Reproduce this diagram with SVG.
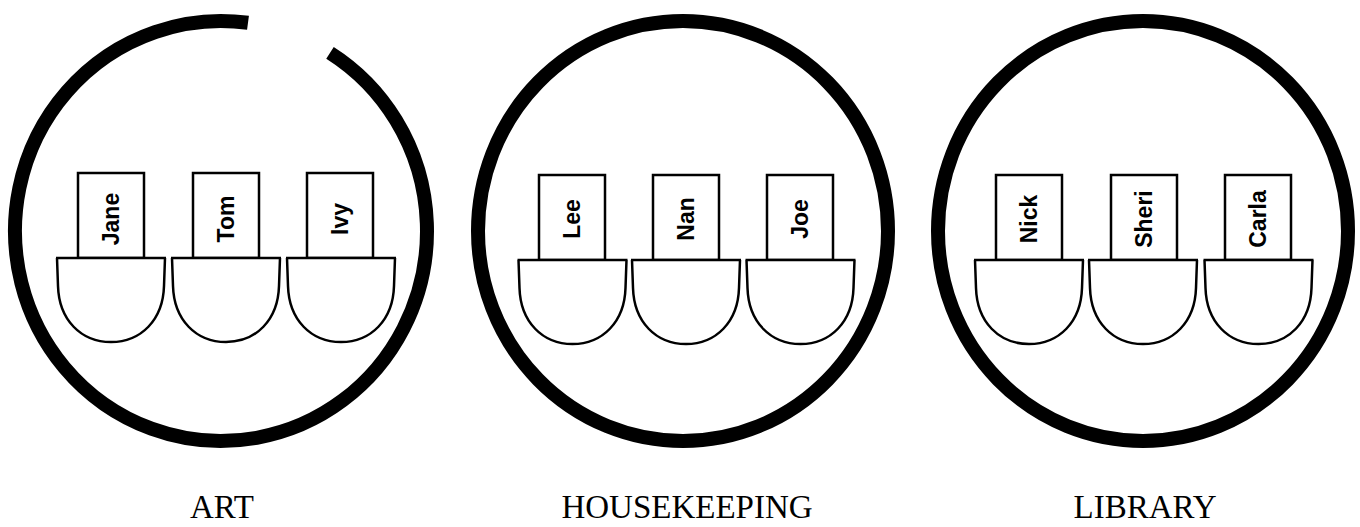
<svg xmlns="http://www.w3.org/2000/svg" width="1360" height="527" viewBox="0 0 1360 527">
<style>
.ring{fill:none;stroke:#000;stroke-width:14}
.card{fill:#fff;stroke:#000;stroke-width:2.5}
.bowl{fill:#fff;stroke:#000;stroke-width:2.5;stroke-linejoin:round}
.name{font-family:"Liberation Sans",Arial,sans-serif;font-weight:bold;font-size:23px;text-anchor:middle;fill:#000}
.label{font-family:"Liberation Serif","Times New Roman",serif;font-size:33px;text-anchor:middle;fill:#000}
</style>
<defs>
<path id="bowlShape" d="M-55,0 H55 M54,0 L53,28 C52,62 30,84 0,84 C-30,84 -52,62 -53,28 L-54,0"/>
</defs>

<g id="art">
<path class="ring" d="M330,52.8 A206 210 0 1 1 248,22.8"/>
<g id="jane">
<rect class="card" x="78" y="173" width="66" height="85"/>
<use href="#bowlShape" class="bowl" transform="translate(111,258)"/>
<text class="name" transform="translate(111,219) rotate(-90)" y="8">Jane</text>
</g>
<g id="tom">
<rect class="card" x="193" y="173" width="66" height="85"/>
<use href="#bowlShape" class="bowl" transform="translate(226,258)"/>
<text class="name" transform="translate(226,219) rotate(-90)" y="8">Tom</text>
</g>
<g id="ivy">
<rect class="card" x="307" y="173" width="66" height="85"/>
<use href="#bowlShape" class="bowl" transform="translate(341,258)"/>
<text class="name" transform="translate(340,219) rotate(-90)" y="8">Ivy</text>
</g>
<text class="label" x="222" y="518">ART</text>
</g>

<g id="housekeeping">
<ellipse class="ring" cx="683" cy="231" rx="205" ry="210"/>
<g id="lee">
<rect class="card" x="539" y="175" width="66" height="85"/>
<use href="#bowlShape" class="bowl" transform="translate(572.5,260)"/>
<text class="name" transform="translate(572,219) rotate(-90)" y="8">Lee</text>
</g>
<g id="nan">
<rect class="card" x="653" y="175" width="66" height="85"/>
<use href="#bowlShape" class="bowl" transform="translate(686,260)"/>
<text class="name" transform="translate(686,219) rotate(-90)" y="8">Nan</text>
</g>
<g id="joe">
<rect class="card" x="767" y="175" width="66" height="85"/>
<use href="#bowlShape" class="bowl" transform="translate(800.5,260)"/>
<text class="name" transform="translate(800,219) rotate(-90)" y="8">Joe</text>
</g>
<text class="label" x="687" y="518">HOUSEKEEPING</text>
</g>

<g id="library">
<ellipse class="ring" cx="1143" cy="231" rx="205" ry="210"/>
<g id="nick">
<rect class="card" x="996" y="175" width="66" height="85"/>
<use href="#bowlShape" class="bowl" transform="translate(1029,260)"/>
<text class="name" transform="translate(1029,219) rotate(-90)" y="8">Nick</text>
</g>
<g id="sheri">
<rect class="card" x="1111" y="175" width="66" height="85"/>
<use href="#bowlShape" class="bowl" transform="translate(1143,260)"/>
<text class="name" transform="translate(1144,219) rotate(-90)" y="8">Sheri</text>
</g>
<g id="carla">
<rect class="card" x="1225" y="175" width="66" height="85"/>
<use href="#bowlShape" class="bowl" transform="translate(1258.5,260)"/>
<text class="name" transform="translate(1258,219) rotate(-90)" y="8">Carla</text>
</g>
<text class="label" x="1145" y="518">LIBRARY</text>
</g>

<g id="connectors"/>
</svg>
